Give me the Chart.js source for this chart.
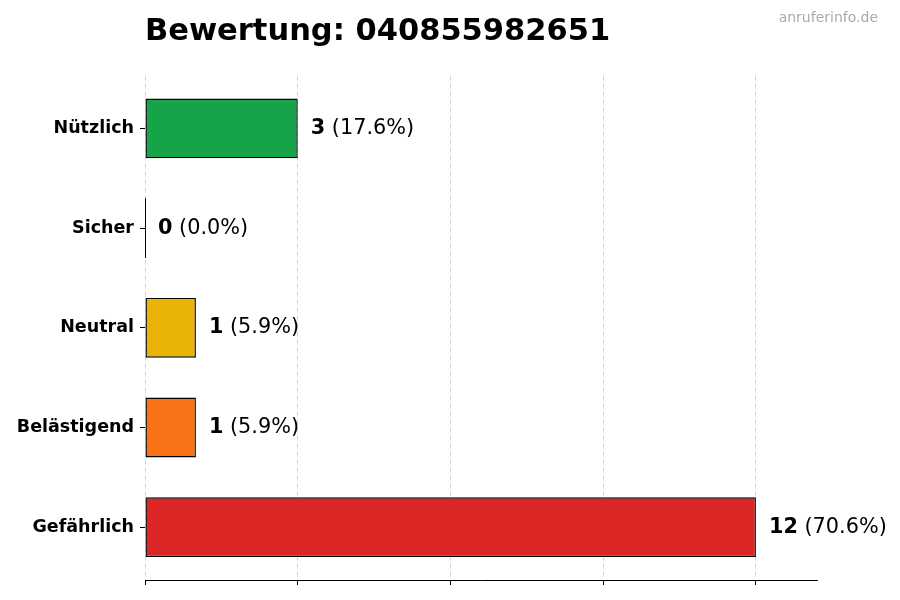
<!DOCTYPE html>
<html lang="de">
<head>
    <meta charset="UTF-8">
    <title>Bewertung: 040855982651</title>
    <script src="https://cdn.jsdelivr.net/npm/chart.js"></script>
    <style>
        html, body {
            margin: 0;
            padding: 0;
            background: #fff;
        }
        #box {
            width: 900px;
            height: 600px;
        }
    </style>
</head>
<body>
    <div id="box"><canvas id="chart"></canvas></div>
    <script>
        /* Daten */
        const categories = ['Nützlich', 'Sicher', 'Neutral', 'Belästigend', 'Gefährlich'];
        const counts = [3, 0, 1, 1, 12];
        const barColors = ['#16a34a', '#2563eb', '#eab308', '#f97316', '#dc2626'];
        const xTicks = [0, 3, 6, 9, 12];
        const xMax = 13.2;
        const title = 'Bewertung: 040855982651';
        const watermark = 'anruferinfo.de';

        const total = counts.reduce((a, b) => a + b, 0);
        const fontName = '"DejaVu Sans", sans-serif';

        /* Werte rechts neben den Balken + Wasserzeichen */
        const labelPlugin = {
            id: 'labels',
            afterDatasetsDraw(chart) {
                const ctx = chart.ctx;
                const meta = chart.getDatasetMeta(0);
                ctx.save();
                ctx.textBaseline = 'middle';
                ctx.fillStyle = '#000';
                meta.data.forEach((bar, i) => {
                    // Null-Balken: nur eine dünne Linie
                    if (counts[i] === 0) {
                        ctx.strokeStyle = '#000';
                        ctx.lineWidth = 1;
                        ctx.beginPath();
                        ctx.moveTo(bar.x + 0.5, bar.y - bar.height / 2);
                        ctx.lineTo(bar.x + 0.5, bar.y + bar.height / 2);
                        ctx.stroke();
                    }
                    const num = String(counts[i]);
                    const pct = ' (' + (counts[i] / total * 100).toFixed(1) + '%)';
                    let x = bar.x + 13;
                    ctx.font = 'bold 20.8px ' + fontName;
                    ctx.fillText(num, x, bar.y);
                    x += ctx.measureText(num).width;
                    ctx.font = '20.8px ' + fontName;
                    ctx.fillText(pct, x, bar.y);
                });
                ctx.font = '14px ' + fontName;
                ctx.fillStyle = '#aaaaaa';
                ctx.textAlign = 'right';
                ctx.textBaseline = 'alphabetic';
                ctx.fillText(watermark, 878, 22);
                ctx.restore();
            }
        };

        new Chart(document.getElementById('chart'), {
            type: 'bar',
            data: {
                datasets: [{
                    data: counts.map((v, i) => ({ x: v, y: i })),
                    backgroundColor: barColors,
                    borderColor: '#000',
                    borderWidth: 1.4,
                    borderSkipped: false,
                    barPercentage: 0.6,
                    categoryPercentage: 1.0
                }]
            },
            options: {
                indexAxis: 'y',
                responsive: true,
                maintainAspectRatio: false,
                animation: false,
                layout: {
                    padding: { left: 0, right: 83, top: 0, bottom: 15 }
                },
                plugins: {
                    legend: { display: false },
                    tooltip: { enabled: false },
                    title: {
                        display: true,
                        text: title,
                        align: 'start',
                        fullSize: false,
                        color: '#000',
                        font: { family: fontName, size: 30.5, weight: 'bold' },
                        padding: { top: 14, bottom: 25 }
                    }
                },
                scales: {
                    x: {
                        type: 'linear',
                        min: 0,
                        max: xMax,
                        z: 1,
                        afterBuildTicks: (scale) => {
                            scale.ticks = xTicks.map(v => ({ value: v }));
                        },
                        ticks: { display: false },
                        grid: {
                            color: 'rgba(150,150,150,0.4)',
                            lineWidth: 1,
                            drawTicks: true,
                            tickLength: 5,
                            tickColor: '#000',
                            tickBorderDash: []
                        },
                        border: {
                            display: true,
                            color: '#000',
                            width: 1,
                            dash: [5, 3]
                        }
                    },
                    y: {
                        type: 'linear',
                        reverse: true,
                        offset: false,
                        min: -0.53,
                        max: categories.length - 1 + 0.53,
                        afterBuildTicks: (scale) => {
                            scale.ticks = categories.map((c, i) => ({ value: i }));
                        },
                        afterFit: (scale) => { scale.width = 145; },
                        ticks: {
                            color: '#000',
                            padding: 6,
                            font: { family: fontName, size: 17.5, weight: 'bold' },
                            callback: (v) => categories[v]
                        },
                        grid: {
                            offset: false,
                            drawOnChartArea: false,
                            drawTicks: true,
                            tickLength: 5,
                            tickColor: '#000'
                        },
                        border: { display: false }
                    }
                }
            },
            plugins: [labelPlugin]
        });
    </script>
</body>
</html>
